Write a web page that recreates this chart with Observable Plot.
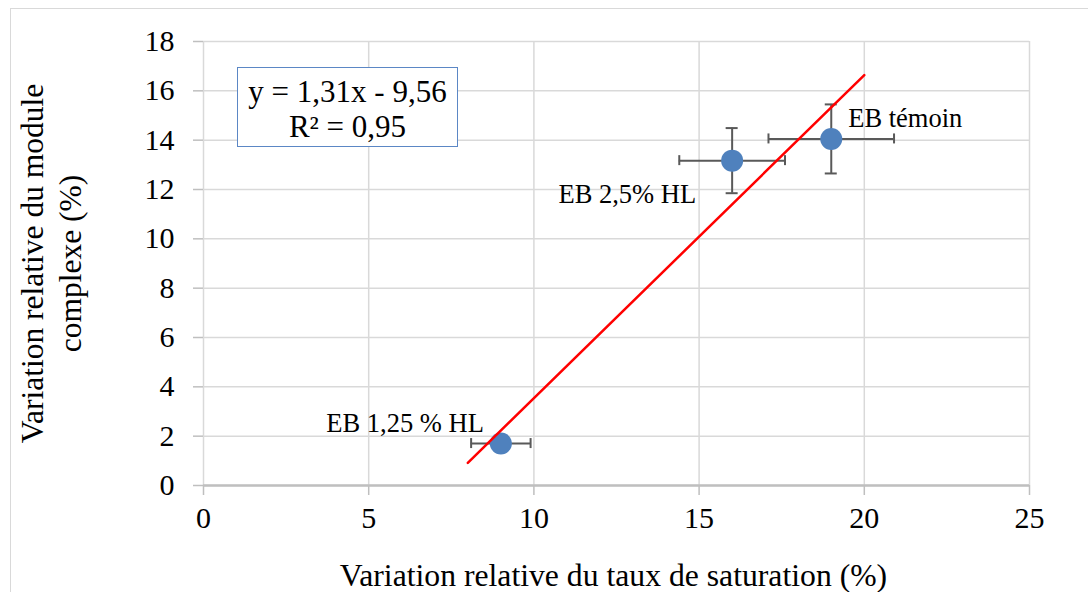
<!DOCTYPE html>
<html>
<head>
<meta charset="utf-8">
<script src="https://cdn.jsdelivr.net/npm/d3@7"></script>
<script src="https://cdn.jsdelivr.net/npm/@observablehq/plot@0.6"></script>
<style>
  html, body { margin: 0; padding: 0; background: #fff; overflow: hidden; }
  #wrap { position: relative; width: 1088px; height: 592px; font-family: "Liberation Serif", "Times New Roman", serif; }
  #frame { position: absolute; left: 10px; top: 8px; width: 1200px; height: 700px; border-left: 1.5px solid #d9d9d9; border-top: 1.5px solid #d9d9d9; }
  #chart { position: absolute; left: 0; top: 0; }
  #chart svg, #chart svg text { font-family: "Liberation Serif", "Times New Roman", serif !important; }
  #eq { position: absolute; left: 237px; top: 67px; width: 219px; height: 72px; padding-top: 6px; border: 1.5px solid #5B87C5; background: #fff; text-align: center; font-size: 31px; line-height: 35px; color: #000; }
</style>
</head>
<body>
<div id="wrap">
  <div id="frame"></div>
  <div id="chart"></div>
  <div id="eq">y = 1,31x - 9,56<br>R² = 0,95</div>
</div>
<script>
// Data
const labels = ["EB témoin", "EB 2,5% HL", "EB 1,25 % HL"];
const xValues = [19.0, 16.0, 9.0];
const yValues = [14.05, 13.17, 1.7];
const xErrors = [1.9, 1.6, 0.9];
const yErrors = [1.4, 1.32, 0];
const xTicks = [0, 5, 10, 15, 20, 25];
const yTicks = [0, 2, 4, 6, 8, 10, 12, 14, 16, 18];
const trendSlope = 1.31;
const trendIntercept = -9.56;
const trendRange = [8, 20];
const xTitle = "Variation relative du taux de saturation (%)";
const yTitle = "Variation relative du module\ncomplexe (%)";

const points = labels.map((label, i) => ({
  label, x: xValues[i], y: yValues[i], ex: xErrors[i], ey: yErrors[i]
}));
const vErr = points.filter(d => d.ey > 0);
const trend = trendRange.map(x => ({x, y: trendSlope * x + trendIntercept}));

// label offsets (pixels) relative to each point
const labelStyle = [
  {dx: 17, dy: -20, anchor: "start"},
  {dx: -36, dy: 34, anchor: "end"},
  {dx: -17, dy: -20, anchor: "end"}
];

const errColor = "#595959";
const font = "Liberation Serif";

const chart = Plot.plot({
  width: 1088,
  height: 592,
  marginLeft: 203,
  marginRight: 59,
  marginTop: 41,
  marginBottom: 107,
  style: {fontFamily: font, fontSize: "30px", color: "#000", background: "transparent", overflow: "visible"},
  x: {domain: [0, 25]},
  y: {domain: [0, 18]},
  marks: [
    Plot.gridX(xTicks, {stroke: "#d9d9d9", strokeOpacity: 1, strokeWidth: 1.5}),
    Plot.gridY(yTicks, {stroke: "#d9d9d9", strokeOpacity: 1, strokeWidth: 1.5}),
    Plot.axisX(xTicks, {tickSize: 10, tickPadding: 11, stroke: "#bfbfbf", strokeWidth: 1.5, fill: "#000", fontSize: 30, fontFamily: font, label: null, tickFormat: d => String(d)}),
    Plot.axisY(yTicks, {tickSize: 10, tickPadding: 19, stroke: "#bfbfbf", strokeWidth: 1.5, fill: "#000", fontSize: 30, fontFamily: font, label: null, tickFormat: d => String(d)}),
    Plot.ruleY([0], {stroke: "#bfbfbf", strokeWidth: 2.5}),
    // horizontal error bars
    Plot.ruleY(points, {y: "y", x1: d => d.x - d.ex, x2: d => d.x + d.ex, stroke: errColor, strokeWidth: 2}),
    Plot.ruleX(points, {x: d => d.x - d.ex, y1: "y", y2: "y", insetTop: -5, insetBottom: -5, stroke: errColor, strokeWidth: 2}),
    Plot.ruleX(points, {x: d => d.x + d.ex, y1: "y", y2: "y", insetTop: -5, insetBottom: -5, stroke: errColor, strokeWidth: 2}),
    // vertical error bars
    Plot.ruleX(vErr, {x: "x", y1: d => d.y - d.ey, y2: d => d.y + d.ey, stroke: errColor, strokeWidth: 2}),
    Plot.ruleY(vErr, {y: d => d.y - d.ey, x1: "x", x2: "x", insetLeft: -6, insetRight: -6, stroke: errColor, strokeWidth: 2}),
    Plot.ruleY(vErr, {y: d => d.y + d.ey, x1: "x", x2: "x", insetLeft: -6, insetRight: -6, stroke: errColor, strokeWidth: 2}),
    Plot.dot(points, {x: "x", y: "y", r: 11, fill: "#4F81BD", stroke: "none"}),
    Plot.line(trend, {x: "x", y: "y", stroke: "#FF0000", strokeWidth: 2.5}),
    ...points.map((d, i) => Plot.text([d], {
      x: "x", y: "y", text: "label",
      dx: labelStyle[i].dx, dy: labelStyle[i].dy,
      textAnchor: labelStyle[i].anchor, lineAnchor: "middle",
      fontSize: 26.5, fontFamily: font, fill: "#000"
    })),
    Plot.text([xTitle], {frameAnchor: "bottom", dx: -3, dy: 90, fontSize: 31.7, fontFamily: font, fill: "#000", lineAnchor: "middle", textAnchor: "middle"}),
    Plot.text([yTitle], {frameAnchor: "left", rotate: -90, dx: -154, fontSize: 31.5, fontFamily: font, lineHeight: 1.22, fill: "#000", lineAnchor: "middle", textAnchor: "middle"})
  ]
});
document.getElementById("chart").appendChild(chart);
</script>
</body>
</html>
